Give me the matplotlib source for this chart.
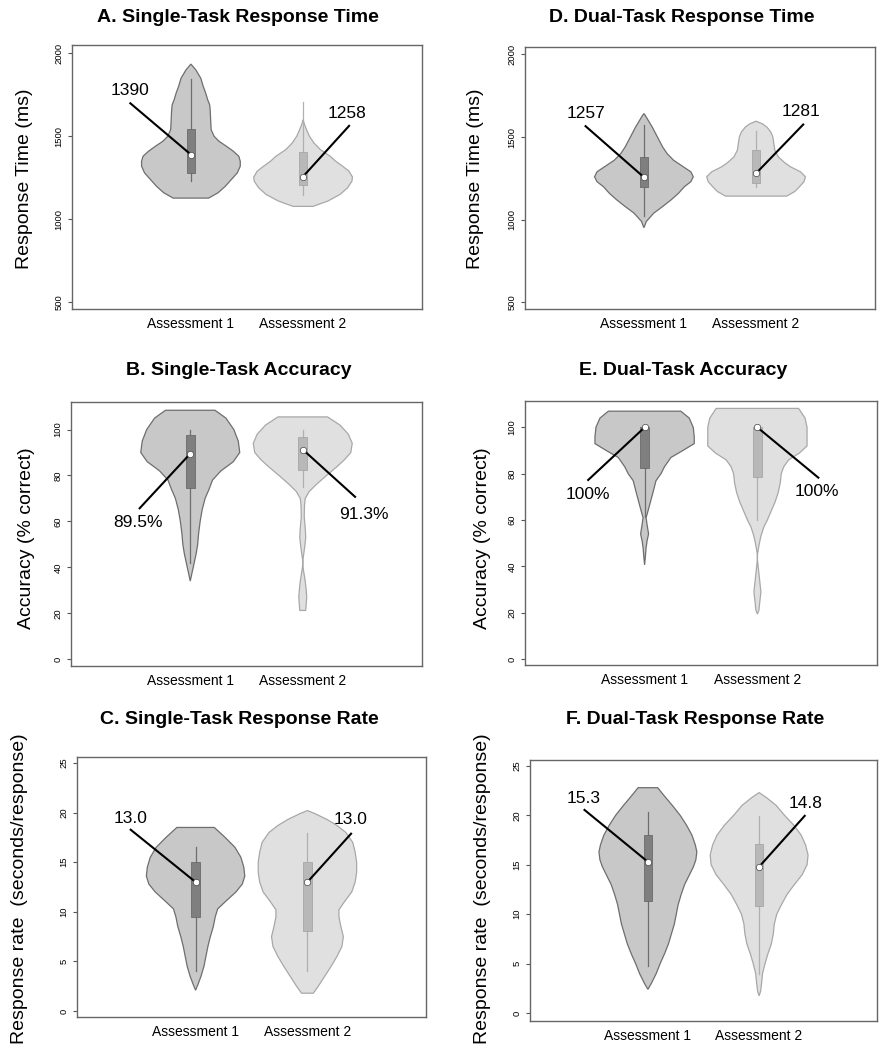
"""
Violin plots: single- and dual-task response time, accuracy and response rate
at two assessments.
"""
import numpy as np
import matplotlib
matplotlib.use("Agg")
import matplotlib.pyplot as plt
from matplotlib.patches import Rectangle

plt.rcParams["font.family"] = ["Liberation Sans", "DejaVu Sans"]

GROUPS = ["Assessment 1", "Assessment 2"]

# violin outlines: value levels and relative half-width
A1_Y = [1128, 1160, 1200, 1240, 1280, 1320, 1350, 1380, 1410, 1440, 1470, 1500,
        1540, 1600, 1660, 1690, 1720, 1760, 1800, 1850, 1900, 1935]
A1_W = [0.36, 0.55, 0.70, 0.82, 0.94, 1.00, 1.00, 0.97, 0.86, 0.72, 0.57, 0.47,
        0.41, 0.40, 0.39, 0.38, 0.34, 0.30, 0.25, 0.20, 0.10, 0.0]
A2_Y = [1078, 1110, 1150, 1190, 1230, 1255, 1290, 1320, 1350, 1380, 1420, 1460,
        1500, 1540, 1570, 1590, 1600]
A2_W = [0.20, 0.50, 0.75, 0.90, 0.99, 1.00, 0.93, 0.80, 0.66, 0.55, 0.35, 0.22,
        0.13, 0.07, 0.03, 0.01, 0.0]

D1_Y = [952, 990, 1040, 1080, 1120, 1160, 1200, 1230, 1260, 1290, 1320, 1360,
        1400, 1440, 1480, 1520, 1560, 1600, 1630, 1642]
D1_W = [0.0, 0.05, 0.20, 0.38, 0.55, 0.70, 0.82, 0.95, 1.00, 0.95, 0.80, 0.60,
        0.47, 0.38, 0.31, 0.24, 0.17, 0.09, 0.03, 0.0]
D2_Y = [1143, 1170, 1200, 1230, 1260, 1290, 1320, 1345, 1380, 1420, 1460, 1500,
        1530, 1560, 1580, 1596]
D2_W = [0.62, 0.78, 0.88, 0.97, 1.00, 0.90, 0.70, 0.58, 0.45, 0.38, 0.36, 0.34,
        0.30, 0.22, 0.13, 0.0]

B1_Y = [34, 38, 42, 46, 50, 55, 60, 65, 70, 74, 78, 82, 86, 90, 95, 100, 105, 108.4]
B1_W = [0.0, 0.04, 0.08, 0.12, 0.15, 0.17, 0.20, 0.24, 0.30, 0.38, 0.45, 0.62,
        0.87, 1.00, 0.97, 0.88, 0.72, 0.50]
B2_Y = [21.2, 24, 27, 30, 34, 38, 41, 43, 45, 49, 53, 57, 62, 67, 70, 73, 76, 80,
        84, 87, 90, 94, 98, 102, 105.5]
B2_W = [0.06, 0.07, 0.08, 0.07, 0.05, 0.02, 0.0, 0.0, 0.015, 0.04, 0.06, 0.05,
        0.03, 0.035, 0.05, 0.13, 0.27, 0.48, 0.70, 0.85, 0.97, 1.00, 0.92, 0.75, 0.50]

E1_Y = [40.6, 44, 48, 51, 54, 58, 61, 64, 68, 72, 77, 80, 83, 87, 90, 93, 96, 100,
        104, 107]
E1_W = [0.0, 0.015, 0.03, 0.05, 0.08, 0.05, 0.03, 0.07, 0.12, 0.17, 0.23, 0.33,
        0.40, 0.53, 0.77, 1.00, 1.00, 0.98, 0.90, 0.73]
E2_Y = [19.4, 21, 25, 29, 33, 37, 41, 43, 45, 47, 50, 53, 57, 60, 64, 68, 72, 76,
        80, 83, 86, 89, 92, 100, 104, 108.2]
E2_W = [0.0, 0.03, 0.05, 0.07, 0.05, 0.03, 0.01, 0.0, 0.0, 0.015, 0.04, 0.07,
        0.13, 0.20, 0.28, 0.36, 0.42, 0.46, 0.48, 0.53, 0.63, 0.85, 1.00, 1.00,
        0.96, 0.83]

C1_Y = [2.1, 2.7, 3.5, 4.5, 5.5, 6.5, 7.5, 8.5, 9.5, 10.3, 11, 12, 12.8, 13.6,
        14.5, 15.5, 16.5, 17.5, 18.5]
C1_W = [0.0, 0.05, 0.11, 0.17, 0.21, 0.25, 0.30, 0.36, 0.40, 0.45, 0.60, 0.82,
        0.95, 1.00, 0.98, 0.92, 0.80, 0.60, 0.38]
C2_Y = [1.8, 2.5, 3.5, 4.5, 5.5, 6.5, 7.5, 8.5, 9.5, 10.2, 11, 12, 13, 14, 15, 16,
        17, 18, 18.7, 19.3, 19.9, 20.2]
C2_W = [0.12, 0.22, 0.35, 0.48, 0.60, 0.70, 0.73, 0.68, 0.64, 0.64, 0.75, 0.90,
        0.97, 1.00, 1.00, 0.97, 0.92, 0.78, 0.60, 0.40, 0.15, 0.0]

F1_Y = [2.4, 3, 4, 5, 6, 7, 8, 9, 10, 11, 12, 13, 14, 14.8, 15.5, 16.3, 17, 18,
        19, 20, 21, 22, 22.8]
F1_W = [0.0, 0.07, 0.17, 0.25, 0.34, 0.42, 0.48, 0.54, 0.58, 0.62, 0.68, 0.75,
        0.85, 0.93, 0.98, 1.00, 0.97, 0.90, 0.79, 0.66, 0.50, 0.33, 0.20]
F2_Y = [1.75, 2.2, 3, 4, 5, 6, 7, 8, 9, 10, 11, 12, 13, 14, 15, 16, 17, 18, 19,
        20, 21, 21.8, 22.3]
F2_W = [0.0, 0.03, 0.05, 0.07, 0.12, 0.18, 0.25, 0.29, 0.31, 0.36, 0.46, 0.57,
        0.72, 0.88, 0.98, 1.00, 0.95, 0.86, 0.71, 0.52, 0.35, 0.15, 0.0]

# box stats per assessment: whisker low, q1, median, q3, whisker high
A_BOX = [[1228, 1278, 1390, 1543, 1843], [1148, 1208, 1258, 1408, 1705]]
D_BOX = [[1020, 1196, 1257, 1377, 1572], [1200, 1224, 1281, 1421, 1535]]
B_BOX = [[42, 74.6, 89.5, 97.5, 100], [75, 82.3, 91.3, 96.8, 100]]
E_BOX = [[61.4, 82.6, 100, 100, 100], [60, 78.7, 100, 100, 100]]
C_BOX = [[4.0, 9.5, 13.0, 15.0, 16.5], [4.0, 8.1, 13.0, 15.0, 17.9]]
F_BOX = [[4.8, 11.3, 15.3, 18.0, 20.3], [4.0, 10.8, 14.8, 17.1, 19.95]]

A_LABELS = ["1390", "1258"]
D_LABELS = ["1257", "1281"]
B_LABELS = ["89.5%", "91.3%"]
E_LABELS = ["100%", "100%"]
C_LABELS = ["13.0", "13.0"]
F_LABELS = ["15.3", "14.8"]

RT_TICKS = [500, 1000, 1500, 2000]
ACC_TICKS = [0, 20, 40, 60, 80, 100]
RATE_TICKS = [0, 5, 10, 15, 20, 25]

W, H = 887, 1050
HALF = 0.44
BOXW = 0.038
STYLE = [
    dict(fill="#c8c8c8", edge="#6e6e6e", box="#7f7f7f", boxedge="#6a6a6a", line="#6e6e6e"),
    dict(fill="#e0e0e0", edge="#a8a8a8", box="#b8b8b8", boxedge="#a6a6a6", line="#b0b0b0"),
]


def draw_violin(ax, pos, ys, ws, box, st):
    ys = np.asarray(ys, float)
    ws = np.asarray(ws, float) * HALF
    xs = np.concatenate([pos + ws, (pos - ws)[::-1]])
    yy = np.concatenate([ys, ys[::-1]])
    ax.fill(xs, yy, facecolor=st["fill"], edgecolor=st["edge"], lw=0.9, zorder=1)
    lo, q1, med, q3, hi = box
    ax.plot([pos, pos], [lo, hi], color=st["line"], lw=0.9, zorder=2)
    ax.add_patch(Rectangle((pos - BOXW, q1), 2 * BOXW, q3 - q1,
                           facecolor=st["box"], edgecolor=st["boxedge"], lw=0.6, zorder=3))
    return med


fig = plt.figure(figsize=(W / 100, H / 100), dpi=100)

panels = [
    # title, ylabel, box px (l, r, t, b), ylim, ticks, violins, boxes, labels,
    # annotations (text xy, line start xy), title pos, ylabel pos
    ("A. Single-Task Response Time", "Response Time (ms)", (72, 422, 45, 309),
     (460, 2050), RT_TICKS, [(A1_Y, A1_W), (A2_Y, A2_W)], A_BOX, A_LABELS,
     [((0.46, 1775), (0.46, 1699)), ((2.39, 1639), (2.41, 1563))], (238, 17), (25, 179)),
    ("D. Dual-Task Response Time", "Response Time (ms)", (525, 875, 47, 309),
     (460, 2045), RT_TICKS, [(D1_Y, D1_W), (D2_Y, D2_W)], D_BOX, D_LABELS,
     [((0.48, 1642), (0.48, 1566)), ((2.40, 1652), (2.42, 1576))], (682, 17), (476, 179)),
    ("B. Single-Task Accuracy", "Accuracy (% correct)", (71, 422, 402, 666),
     (-3, 112), ACC_TICKS, [(B1_Y, B1_W), (B2_Y, B2_W)], B_BOX, B_LABELS,
     [((0.54, 59.4), (0.55, 65.7)), ((2.54, 63.2), (2.465, 70.7))], (239, 370), (27, 538)),
    ("E. Dual-Task Accuracy", "Accuracy (% correct)", (525, 877, 401, 665),
     (-2.6, 111.4), ACC_TICKS, [(E1_Y, E1_W), (E2_Y, E2_W)], E_BOX, E_LABELS,
     [((0.50, 71.2), (0.50, 77.3)), ((2.53, 72.2), (2.54, 78.3))], (683, 370), (483, 538)),
    ("C. Single-Task Response Rate", "Response rate  (seconds/response)", (77, 426, 757, 1017),
     (-0.6, 25.6), RATE_TICKS, [(C1_Y, C1_W), (C2_Y, C2_W)], C_BOX, C_LABELS,
     [((0.42, 19.45), (0.42, 18.27)), ((2.39, 19.28), (2.39, 17.87))], (239, 720), (20, 889)),
    ("F. Dual-Task Response Rate", "Response rate  (seconds/response)", (530, 877, 760, 1021),
     (-0.8, 25.6), RATE_TICKS, [(F1_Y, F1_W), (F2_Y, F2_W)], F_BOX, F_LABELS,
     [((0.42, 21.73), (0.43, 20.55)), ((2.42, 21.2), (2.41, 19.95))], (695, 720), (483, 889)),
]

for (title, ylabel, (l, r, t, b), ylim, ticks, violins, boxes, labels,
     notes, tpos, lpos) in panels:
    ax = fig.add_axes([l / W, 1 - b / H, (r - l) / W, (b - t) / H])
    for i, ((ys, ws), box, lab, (txy, sxy)) in enumerate(zip(violins, boxes, labels, notes)):
        pos = i + 1
        med = draw_violin(ax, pos, ys, ws, box, STYLE[i])
        ax.plot([sxy[0], pos], [sxy[1], med], color="black", lw=1.5, zorder=4)
        ax.plot(pos, med, "o", ms=4.6, mfc="white", mec="#444444", mew=0.5, zorder=5)
        ax.text(txy[0], txy[1], lab, ha="center", va="center", fontsize=12.5)
    ax.set_xlim(-0.06, 3.06)
    ax.set_ylim(*ylim)
    ax.set_xticks([1, 2])
    ax.set_xticklabels(GROUPS, fontsize=10)
    ax.tick_params(axis="x", length=0, pad=6)
    ax.set_yticks(ticks)
    ax.set_yticklabels([str(v) for v in ticks], fontsize=6.8, rotation=90, va="center")
    ax.tick_params(axis="y", length=3, width=0.8, color="#555555", pad=3)
    for s in ax.spines.values():
        s.set_color("#666666")
        s.set_linewidth(1.0)
    fig.text(tpos[0] / W, 1 - tpos[1] / H, title, ha="center", va="center",
             fontsize=14, fontweight="bold")
    fig.text(lpos[0] / W, 1 - lpos[1] / H, ylabel, ha="center", va="center",
             rotation=90, fontsize=14)

fig.savefig("out.png", dpi=100)
print("Saved -> out.png")
